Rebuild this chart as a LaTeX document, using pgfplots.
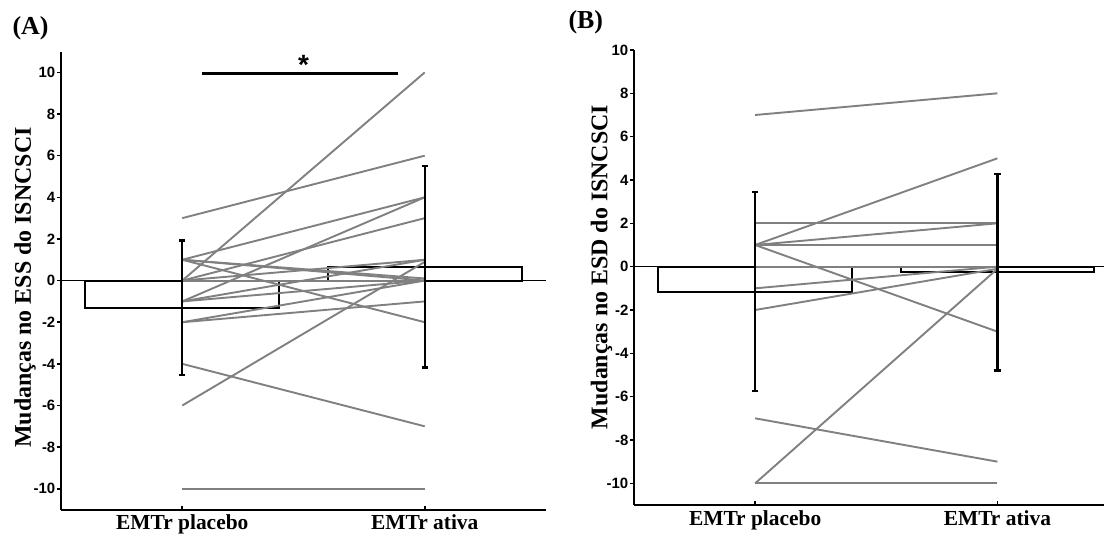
\documentclass[border=0pt]{standalone}
\usepackage{fontspec}
\setmainfont{Liberation Serif}
\newfontfamily\sansf{Liberation Sans}
\usepackage{pgfplots}
\pgfplotsset{compat=1.18}
\definecolor{linegray}{RGB}{128,128,128}
\pgfplotsset{
  panel/.style={
    scale only axis,
    axis lines=left,
    axis line style={-, black, line width=1.9bp},
    xmin=0.5, ymin=-11,
    xtick={1,2}, xticklabels={EMTr placebo, EMTr ativa},
    ytick={-10,-8,-6,-4,-2,0,2,4,6,8,10},
    yticklabels={-10,-8,-6,-4,-2,0,2,4,6,8,10},
    tick align=outside,
    major tick length=4bp,
    tick style={black, line width=1.6bp},
    every major x tick/.append style={yshift=4bp},
    yticklabel style={font=\sansf\bfseries\fontsize{15}{17}\selectfont, inner sep=1.5bp},
    xticklabel style={font=\bfseries\fontsize{21.5}{23}\selectfont, inner sep=0bp, yshift=-1bp},
    ylabel style={font=\bfseries\fontsize{24}{26}\selectfont, rotate=0, anchor=center},
    clip=false,
  },
  gl/.style={linegray, line width=1.9bp, forget plot},
  barst/.style={ybar, bar width=0.8, fill=white, draw=black, line width=2bp, forget plot},
  errst/.style={draw=none, forget plot, error bars/.cd, y dir=both, y explicit,
    error bar style={draw=black, line width=2.2bp},
    error mark options={rotate=90, mark size=3.2bp, draw=black, line width=2.2bp}},
}
\begin{document}
\begin{tikzpicture}[x=1bp,y=1bp]
\path[use as bounding box] (0,0) rectangle (1104,541);
% ---------------- Panel A
\begin{axis}[panel, at={(61bp,31.4bp)}, anchor=south west,
  width=485bp, height=458bp, xmax=2.5, ymax=11,
  ylabel={Mudanças no ESS do ISNCSCI},
  ylabel style={at={(axis description cs:-0.074,0.485)}}]
\addplot[barst] coordinates {(1,-1.3) (2,0.67)};
\addplot[black, line width=1.1bp, forget plot] coordinates {(0.5,0) (2.5,0)};
\addplot[gl] coordinates {(1,3) (2,6)};
\addplot[gl] coordinates {(1,0) (2,10)};
\addplot[gl] coordinates {(1,1) (2,4)};
\addplot[gl] coordinates {(1,-1) (2,4)};
\addplot[gl] coordinates {(1,0) (2,3)};
\addplot[gl] coordinates {(1,1) (2,-2)};
\addplot[gl] coordinates {(1,1) (2,0)};
\addplot[gl] coordinates {(1,1) (2,0.1)};
\addplot[gl] coordinates {(1,0) (2,1)};
\addplot[gl] coordinates {(1,0) (2,0)};
\addplot[gl] coordinates {(1,-1) (2,1)};
\addplot[gl] coordinates {(1,-1) (2,0)};
\addplot[gl] coordinates {(1,-2) (2,-1)};
\addplot[gl] coordinates {(1,-2) (2,0)};
\addplot[gl] coordinates {(1,-4) (2,-7)};
\addplot[gl] coordinates {(1,-6) (2,0.9)};
\addplot[gl] coordinates {(1,-10) (2,-10)};
\addplot[errst] coordinates {(1,-1.3) +- (0,3.23) (2,0.67) +- (0,4.84)};
\addplot[black, line width=3.2bp, forget plot] coordinates {(1.08,9.95) (1.89,9.95)};
\node at (axis cs:1.5,10.35) {\sansf\bfseries\fontsize{28}{30}\selectfont *};
\end{axis}
% ---------------- Panel B
\begin{axis}[panel, at={(634bp,36bp)}, anchor=south west,
  width=470bp, height=455bp, xmax=2.44, ymax=10,
  ylabel={Mudanças no ESD do ISNCSCI},
  ylabel style={at={(axis description cs:-0.069,0.523)}}]
\addplot[barst] coordinates {(1,-1.15) (2,-0.25)};
\addplot[black, line width=1.1bp, forget plot] coordinates {(0.5,0) (2.44,0)};
\addplot[gl] coordinates {(1,7) (2,8)};
\addplot[gl] coordinates {(1,1) (2,5)};
\addplot[gl] coordinates {(1,2) (2,2)};
\addplot[gl] coordinates {(1,1) (2,2)};
\addplot[gl] coordinates {(1,1) (2,1)};
\addplot[gl] coordinates {(1,1) (2,-3)};
\addplot[gl] coordinates {(1,0) (2,0)};
\addplot[gl] coordinates {(1,-1) (2,0)};
\addplot[gl] coordinates {(1,-2) (2,-0.1)};
\addplot[gl] coordinates {(1,-7) (2,-9)};
\addplot[gl] coordinates {(1,-10) (2,-10)};
\addplot[gl] coordinates {(1,-10) (2,-0.1)};
\addplot[errst] coordinates {(1,-1.15) +- (0,4.58) (2,-0.25) +- (0,4.54)};
\end{axis}
\node[anchor=west] at (9,513) {\bfseries\fontsize{26}{28}\selectfont (A)};
\node[anchor=west] at (565,519) {\bfseries\fontsize{26}{28}\selectfont (B)};
\end{tikzpicture}
\end{document}
